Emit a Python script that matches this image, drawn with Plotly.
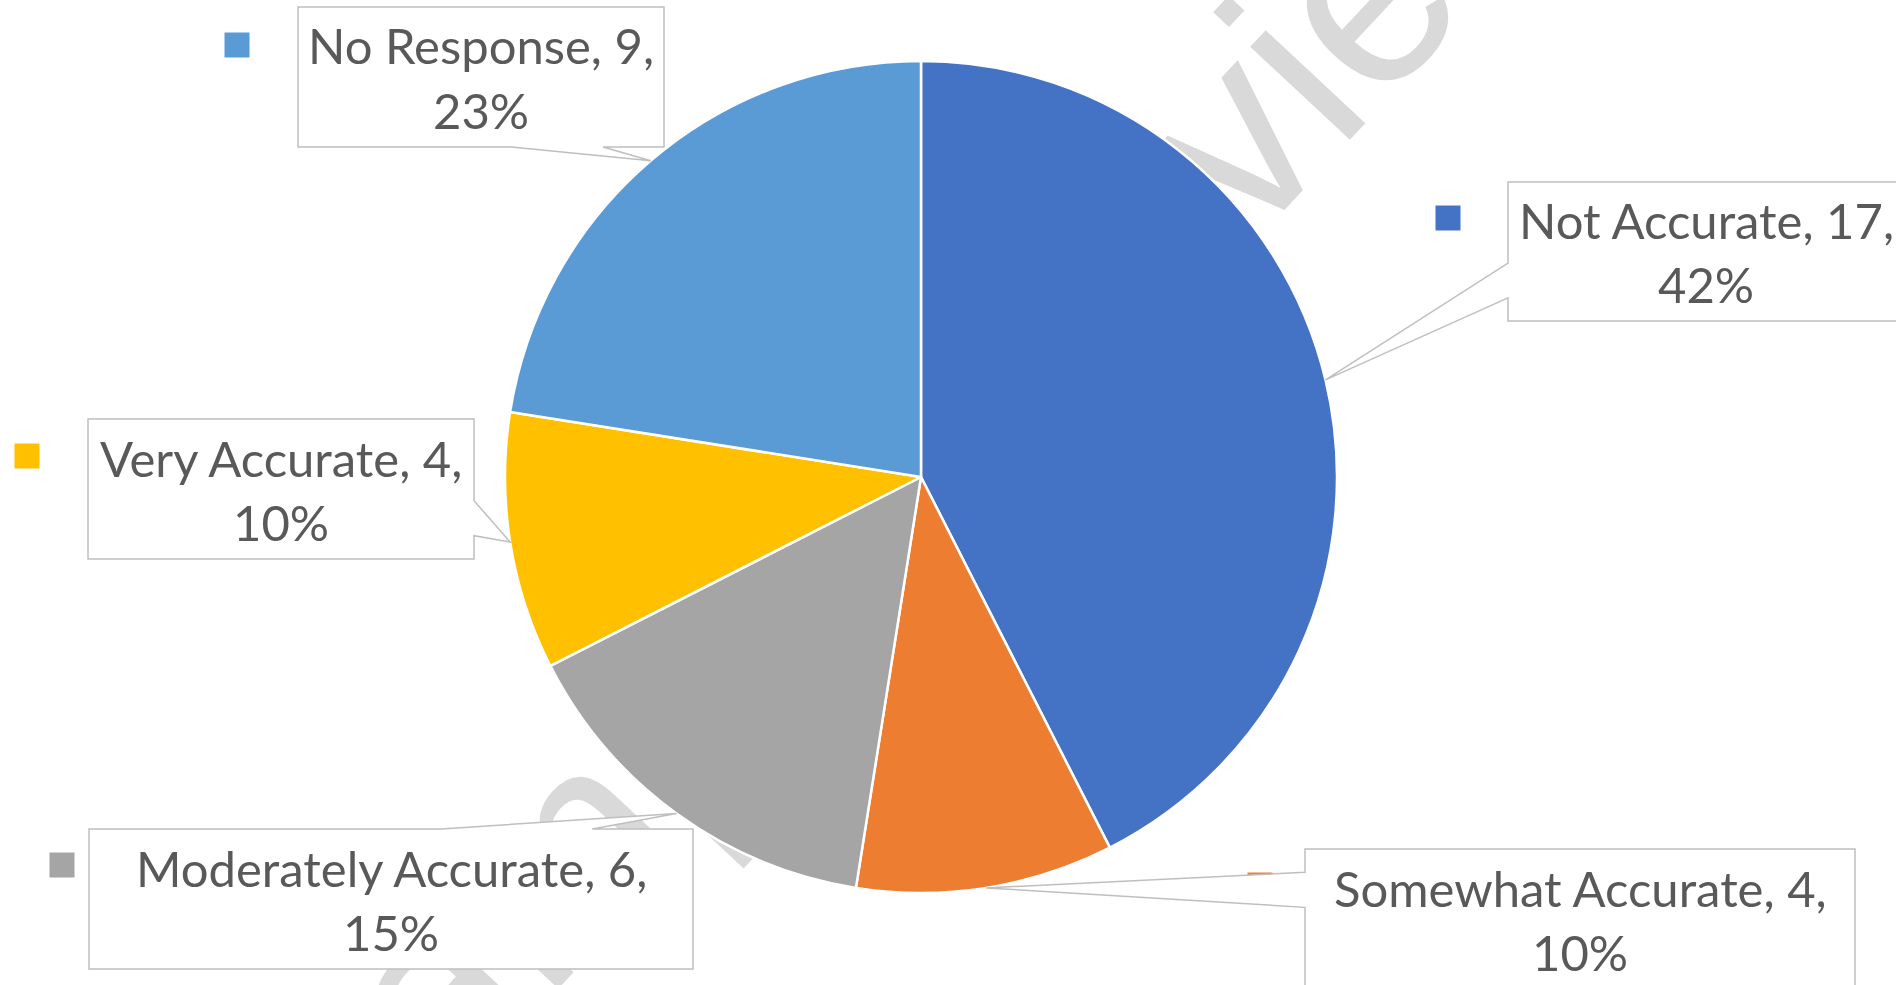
import math
import plotly.graph_objects as go

# Survey responses
categories = ["Not Accurate", "Somewhat Accurate", "Moderately Accurate", "Very Accurate", "No Response"]
counts = [17, 4, 6, 4, 9]
percent_labels = ["42%", "10%", "15%", "10%", "23%"]
colors = ["#4472C4", "#ED7D31", "#A5A5A5", "#FFC000", "#5B9BD5"]

# Canvas and pie geometry (pixels)
W, H = 1896, 985
PIE_CX, PIE_CY, PIE_R = 921, 477, 416

# Callout boxes per category: left, top, right, bottom (pixels)
label_boxes = [
    (1508, 182, 1904, 321),
    (1305, 849, 1855, 989),
    (89, 829, 693, 969),
    (88, 419, 474, 559),
    (298, 7, 664, 147),
]
# Legend-key square centres (pixels)
key_centers = [(1448, 218), (1260, 885), (62, 865), (27, 456), (237, 45)]
KEY_SIZE = 25

LABEL_FONT = dict(family="Lato", size=49, color="#595959")
BOX_LINE = "#BFBFBF"
WATERMARK = "Sample Preview"


def px(x, y):
    return x / W, 1 - y / H


fig = go.Figure()
fig.add_trace(go.Pie(
    labels=categories,
    values=counts,
    sort=False,
    direction="clockwise",
    rotation=0,
    marker=dict(colors=colors, line=dict(color="white", width=2.5)),
    textinfo="none",
    hoverinfo="label+value+percent",
    showlegend=False,
    domain=dict(
        x=[(PIE_CX - PIE_R) / W, (PIE_CX + PIE_R) / W],
        y=[1 - (PIE_CY + PIE_R) / H, 1 - (PIE_CY - PIE_R) / H],
    ),
))

shapes = []
annotations = []

# Watermark behind everything
wx, wy = px(884, 474)
shapes.append(dict(
    type="rect", xref="paper", yref="paper", layer="below",
    x0=wx - 0.001, x1=wx + 0.001, y0=wy - 0.001, y1=wy + 0.001,
    line=dict(width=0), fillcolor="rgba(0,0,0,0)",
    label=dict(text=WATERMARK, textangle=-47, textposition="middle center",
               font=dict(family="Liberation Sans", size=258, color="#D9D9D9")),
))

total = sum(counts)
cum = 0
for i, (cat, val) in enumerate(zip(categories, counts)):
    theta = 2 * math.pi * (cum + val / 2) / total
    cum += val
    tipx = PIE_CX + PIE_R * math.sin(theta)
    tipy = PIE_CY - PIE_R * math.cos(theta)

    l, t, r, b = label_boxes[i]
    w, h = r - l, b - t
    cx, cy = (l + r) / 2, (t + b) / 2
    dx, dy = tipx - cx, tipy - cy

    # wedge-rectangle callout outline
    if abs(dx) * h / w > abs(dy):
        f = (7 / 12, 5 / 6) if dy > 0 else (1 / 6, 5 / 12)
        y1, y2 = t + f[0] * h, t + f[1] * h
        if dx > 0:
            pts = [(l, t), (r, t), (r, y1), (tipx, tipy), (r, y2), (r, b), (l, b)]
        else:
            pts = [(l, t), (r, t), (r, b), (l, b), (l, y2), (tipx, tipy), (l, y1)]
    else:
        f = (7 / 12, 5 / 6) if dx > 0 else (1 / 6, 5 / 12)
        x1, x2 = l + f[0] * w, l + f[1] * w
        if dy > 0:
            pts = [(l, t), (r, t), (r, b), (x2, b), (tipx, tipy), (x1, b), (l, b)]
        else:
            pts = [(l, t), (x1, t), (tipx, tipy), (x2, t), (r, t), (r, b), (l, b)]

    # legend key square
    kx, ky = key_centers[i]
    k0 = px(kx - KEY_SIZE / 2, ky + KEY_SIZE / 2)
    k1 = px(kx + KEY_SIZE / 2, ky - KEY_SIZE / 2)
    shapes.append(dict(type="rect", xref="paper", yref="paper", layer="above",
                       x0=k0[0], y0=k0[1], x1=k1[0], y1=k1[1],
                       fillcolor=colors[i], line=dict(width=0)))

    path = "M " + " L ".join("{:.6f},{:.6f}".format(*px(x, y)) for x, y in pts) + " Z"
    shapes.append(dict(type="path", xref="paper", yref="paper", layer="above",
                       path=path, fillcolor="white",
                       line=dict(color=BOX_LINE, width=1.5)))

    lines = ["{}, {},".format(cat, val), percent_labels[i]]
    for text, off in zip(lines, (-31.5, 33.0)):
        ax, ay = px(cx, cy + off)
        annotations.append(dict(xref="paper", yref="paper", x=ax, y=ay,
                                xanchor="center", yanchor="middle",
                                text=text, showarrow=False, font=LABEL_FONT))

fig.update_layout(
    width=W, height=H,
    margin=dict(l=0, r=0, t=0, b=0),
    paper_bgcolor="white", plot_bgcolor="white",
    shapes=shapes, annotations=annotations,
)

fig.write_html("out.html", config={"displayModeBar": False})
